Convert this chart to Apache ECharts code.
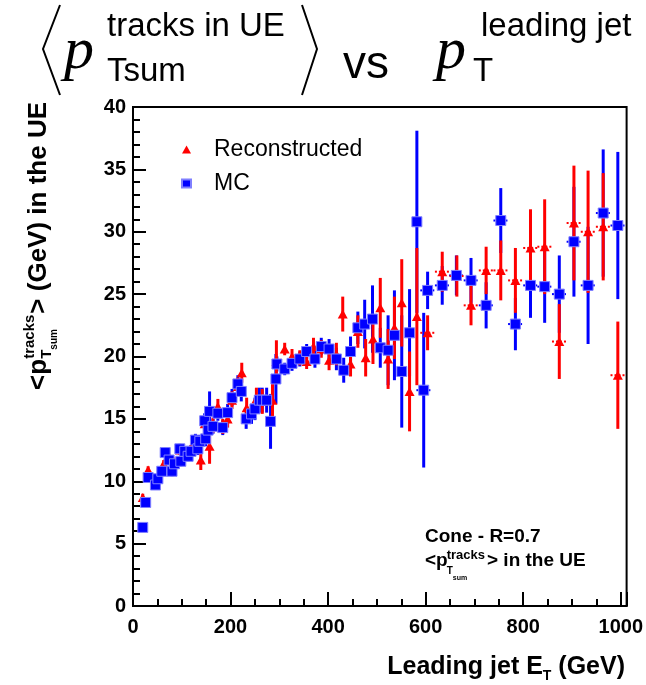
<!DOCTYPE html>
<html><head><meta charset="utf-8">
<script src="https://cdn.jsdelivr.net/npm/echarts@6/dist/echarts.min.js"></script>
<style>html,body{margin:0;padding:0;background:#fff}#c{width:646px;height:685px}</style>
</head><body><div id="c"></div>
<script>
// ---- data ----
const mcX = [20,26,31,46,51,59,66,74,80,85,96,98,106,113,119,128,133,137,147,149,154,157,164,174,184,194,203,215,222,232,243,250,259,265,274,282,293,295,311,326,342,356,373,386,402,417,432,446,461,475,491,507,523,536,551,567,582,596,604,634,663,693,724,754,784,815,844,874,904,933,964,994];
const mcY = [6.3,8.3,10.3,9.7,10.2,10.8,12.3,11.7,10.8,11.4,12.6,11.6,12.4,12.0,12.4,13.3,12.6,13.2,14.85,13.4,14.1,15.6,14.4,15.45,14.3,15.5,16.7,17.8,17.2,15.0,15.4,15.8,16.5,16.5,16.5,14.8,18.2,19.4,19.0,19.45,19.8,20.4,19.8,20.8,20.6,19.8,18.9,20.4,22.3,22.6,23.0,20.7,20.5,21.7,18.8,21.9,30.8,17.3,25.3,25.7,26.5,26.1,24.1,30.9,22.6,25.7,25.6,25.0,29.2,25.7,31.5,30.5];
const mcErr = [0.3,0.3,0.3,0.3,0.3,0.3,0.4,0.4,0.4,0.4,0.4,0.4,0.4,0.4,0.5,0.5,0.5,0.5,0.6,0.6,0.7,1.6,0.6,0.6,0.6,0.7,0.7,0.7,0.8,0.8,0.8,0.9,1.0,1.0,1.0,2.2,2.0,0.6,0.5,0.6,0.6,0.6,0.7,0.7,0.8,0.9,1.0,1.2,1.3,1.95,2.7,1.6,2.8,3.6,4.5,3.5,7.3,6.2,1.5,1.55,1.6,1.8,1.85,2.6,2.1,2.6,2.9,3.1,4.4,4.7,5.1,5.9];

const recoX = [20,31,46,51,63,74,85,96,106,113,123,128,139,147,157,164,174,184,194,203,215,223,233,253,265,286,294,311,326,342,356,370,386,402,417,430,446,461,477,492,507,523,536,551,567,582,604,634,664,693,724,754,784,815,844,874,904,933,964,994];
const recoY = [8.7,10.9,9.8,10.3,11.4,11.8,11.5,12.5,12.3,12.1,13.0,13.1,11.7,14.6,12.8,14.5,16.0,14.4,15.0,16.5,17.6,18.7,15.9,16.6,16.4,16.5,19.6,20.6,20.0,19.9,19.6,20.8,20.6,19.7,20.2,23.4,19.4,22.0,19.9,21.4,23.9,19.8,22.3,24.3,17.2,23.2,21.9,26.8,26.45,24.1,26.9,26.9,26.1,28.7,28.8,21.2,30.7,30.0,30.4,18.5];
const recoErr = [0.3,0.3,0.3,0.3,0.3,0.4,0.4,0.4,0.4,0.4,0.5,0.5,0.8,0.6,1.4,0.6,0.6,0.6,0.7,0.7,0.7,0.8,0.8,0.9,1.0,1.5,1.7,0.5,0.6,0.6,0.6,0.7,0.7,0.8,0.9,1.4,1.0,1.3,1.5,2.0,2.4,2.4,2.5,3.5,3.2,5.5,1.4,1.6,1.65,1.6,1.9,2.4,2.6,3.1,3.8,3.0,4.6,4.9,4.3,4.3];

const binHalfWidth = 15;      // horizontal error (GeV) of the high-pT bins
const binHalfFrom = 590;      // from this E_T on, the horizontal error is visible

const xTickLabels = [0,200,400,600,800,1000];
const yTickLabels = [0,5,10,15,20,25,30,35,40];
const seriesNames = ['Reconstructed','MC'];

// ---- build ----
function rows(xs, ys, es){
  return xs.map((x,i)=>[x, ys[i], es[i], x >= binHalfFrom ? binHalfWidth : 0]);
}
function errorBars(color){
  return function(params, api){
    const x=api.value(0), y=api.value(1), e=api.value(2), xe=api.value(3);
    const p0=api.coord([x,y+e]), p1=api.coord([x,y-e]);
    const ch=[{type:'line', shape:{x1:p0[0],y1:p0[1],x2:p1[0],y2:p1[1]}, style:{stroke:color,lineWidth:3}}];
    if(xe>0){
      const a=api.coord([x-xe,y]), b=api.coord([x+xe,y]);
      ch.push({type:'line', shape:{x1:a[0],y1:a[1],x2:b[0],y2:b[1]}, style:{stroke:color,lineWidth:2,lineDash:[2,2]}});
    }
    return {type:'group', children:ch};
  };
}

const ctx = document.createElement('canvas').getContext('2d');
function tw(t, font){ ctx.font = font; return ctx.measureText(t).width; }
const SANS = '"Liberation Sans", Arial, sans-serif';
const SERIF = '"Liberation Serif", "Times New Roman", serif';
function F(w, s, fam){ return w + ' ' + s + 'px ' + (fam||SANS); }
function T(text, x, baseline, font, size, extra){
  return Object.assign({type:'text', z:100, style:{text, x, y: baseline - 0.31*size, font, fill:'#000', align:'left', verticalAlign:'middle'}}, extra||{});
}

const graphics = [];
// ---- top title ----
graphics.push({type:'polyline', z:100, shape:{points:[[60,5],[43,49],[60,95]]}, style:{stroke:'#000', lineWidth:2, fill:null}});
graphics.push({type:'polyline', z:100, shape:{points:[[302,5],[317,49],[302,95]]}, style:{stroke:'#000', lineWidth:2, fill:null}});
graphics.push(T('p', 64, 71, F('italic', 60, SERIF), 60));
graphics.push(T('tracks in UE', 107, 37, F('normal', 33), 33));
graphics.push(T('Tsum', 107, 82, F('normal', 33), 33));
graphics.push(T('vs', 343, 80, F('normal', 46), 46));
graphics.push(T('p', 436, 71, F('italic', 60, SERIF), 60));
graphics.push(T('T', 473, 82, F('normal', 33), 33));
graphics.push(T('leading jet', 481, 37, F('normal', 33), 33));

// ---- y axis title (rotated) ----
(function(){
  const yf=26, ys=15, yss=10;
  const wA = tw('<p', F('bold',yf)), wTr = tw('tracks', F('bold',ys)), wT = tw('T', F('bold',ys)), wSum = tw('sum', F('bold',yss));
  const wB = tw('> (GeV) in the UE', F('bold',yf));
  const sw = Math.max(wTr, wT + wSum);
  const L = wA + sw + 1 + wB;
  graphics.push({type:'group', x:47, y:102 + L, rotation: Math.PI/2, z:100, children:[
    T('<p', 0, 0, F('bold',yf), yf),
    T('tracks', wA, -12, F('bold',ys), ys),
    T('T', wA, 5, F('bold',ys), ys),
    T('sum', wA + wT, 10, F('bold',yss), yss),
    T('> (GeV) in the UE', wA + sw + 1, 0, F('bold',yf), yf)
  ]});
})();

// ---- x axis title ----
(function(){
  const f=25, s=14;
  const w3 = tw(' (GeV)', F('bold',f)), w2 = tw('T', F('bold',s)), w1 = tw('Leading jet E', F('bold',f));
  const x3 = 625 - w3, x2 = x3 - w2, x1 = x2 - w1;
  graphics.push(T('Leading jet E', x1, 675, F('bold',f), f));
  graphics.push(T('T', x2, 680, F('bold',s), s));
  graphics.push(T(' (GeV)', x3, 675, F('bold',f), f));
})();

// ---- annotation ----
(function(){
  const f=19;
  graphics.push(T('Cone - R=0.7', 425, 543, F('bold',f), f));
  const wA = tw('<p', F('bold',f));
  graphics.push(T('<p', 425, 567, F('bold',f), f));
  graphics.push(T('tracks', 425 + wA - 1, 559, F('bold',13), 13));
  graphics.push(T('T', 425 + wA - 1, 574, F('bold',10), 10));
  const wT = tw('T', F('bold',10));
  graphics.push(T('sum', 425 + wA - 1 + wT, 580, F('bold',7), 7));
  graphics.push(T('> in the UE', 487, 567, F('bold',f), f));
})();

const axisCommon = {
  axisLine:{show:true, onZero:false, lineStyle:{color:'#000', width:2}},
  axisTick:{show:true, inside:true, length:14, lineStyle:{color:'#000', width:2}},
  minorTick:{show:true, length:7, lineStyle:{color:'#000', width:2}},
  splitLine:{show:false}, minorSplitLine:{show:false}
};

const chart = echarts.init(document.getElementById('c'), null, {renderer:'canvas'});
chart.setOption({
  animation:false,
  backgroundColor:'#fff',
  grid:{left:133, right:19, top:107, bottom:79, show:true, borderColor:'#000', borderWidth:2, backgroundColor:'transparent'},
  legend:{
    orient:'vertical', left:176, top:133, itemGap:11, itemWidth:9, itemHeight:8,
    selectedMode:false,
    data:[{name:seriesNames[0], icon:'triangle'}, {name:seriesNames[1], icon:'rect'}],
    textStyle:{fontSize:23, fontFamily:SANS, color:'#000', padding:[0,0,0,18]}
  },
  xAxis: Object.assign({}, axisCommon, {
    type:'value', min:0, max:1012, interval:200,
    minorTick:Object.assign({}, axisCommon.minorTick, {splitNumber:4}),
    axisLabel:{margin:11, fontSize:20, fontWeight:'bold', fontFamily:SANS, color:'#000',
      formatter: v => xTickLabels.indexOf(v) >= 0 ? String(v) : ''}
  }),
  yAxis: Object.assign({}, axisCommon, {
    type:'value', min:0, max:40, interval:5,
    axisTick:Object.assign({}, axisCommon.axisTick, {length:13}),
    minorTick:Object.assign({}, axisCommon.minorTick, {splitNumber:5}),
    axisLabel:{margin:7, fontSize:20, fontWeight:'bold', fontFamily:SANS, color:'#000',
      formatter: v => yTickLabels.indexOf(v) >= 0 ? String(v) : ''}
  }),
  series:[
    {name:'MC err', type:'custom', z:2, renderItem:errorBars('#0000ff'), encode:{x:0,y:1}, data:rows(mcX,mcY,mcErr), clip:true},
    {name:'Reco err', type:'custom', z:3, renderItem:errorBars('#ff0000'), encode:{x:0,y:1}, data:rows(recoX,recoY,recoErr), clip:true},
    {name:seriesNames[0], type:'scatter', z:4, symbol:'triangle', symbolSize:[10,9], itemStyle:{color:'#ff0000', opacity:1},
      data:recoX.map((x,i)=>[x, recoY[i]])},
    {name:seriesNames[1], type:'scatter', z:5, symbol:'rect', symbolSize:10, itemStyle:{color:'#0000ff', borderColor:'#7f7fff', borderWidth:1, opacity:1},
      data:mcX.map((x,i)=>[x, mcY[i]])}
  ],
  graphic: graphics
});
</script></body></html>
